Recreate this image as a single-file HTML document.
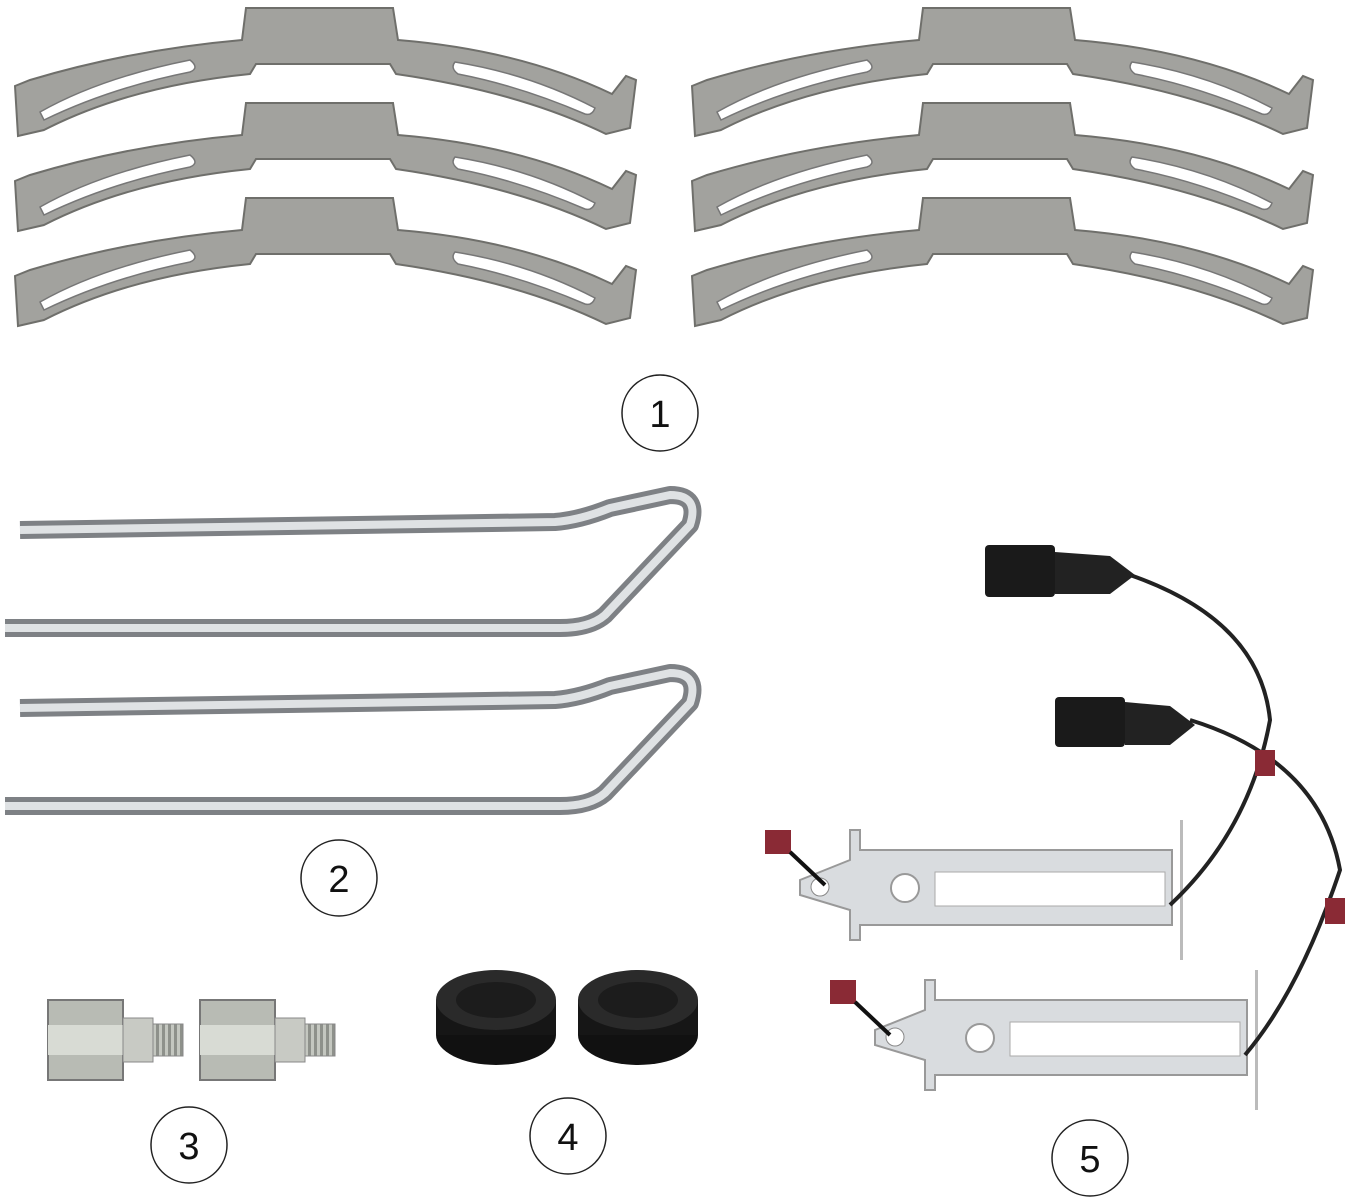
<!DOCTYPE html>
<html><head><meta charset="utf-8"><style>
html,body{margin:0;padding:0;background:#fff;}
svg{display:block}
text{font-family:"Liberation Sans",sans-serif;}
</style></head><body>
<svg width="1371" height="1201" viewBox="0 0 1371 1201" xmlns="http://www.w3.org/2000/svg">
<defs>
<g id="clip">
<path d="M15,86 L30,80 Q130,50 242,40 L246,8 L393,8 L398,40 Q520,50 612,94 L626,76 L636,80 L630,128 L606,134 Q520,92 396,74 L390,64 L256,64 L250,74 Q130,86 44,130 L18,136 Z" fill="#a2a29e" stroke="#6f6f6b" stroke-width="2"/>
<path d="M40,112 Q100,78 190,60 Q200,68 190,72 Q110,88 44,120 Z" fill="#fff" stroke="#777" stroke-width="1.5"/>
<path d="M455,62 Q530,74 595,108 Q592,116 585,114 Q520,86 458,74 Q450,68 455,62 Z" fill="#fff" stroke="#777" stroke-width="1.5"/>
</g>
<pattern id="thr" width="6" height="6" patternUnits="userSpaceOnUse">
<rect width="6" height="6" fill="#c4c7c0"/><rect width="3" height="6" fill="#8e918b"/>
</pattern>
<g id="wire">
<path d="M20,530 L555,522 Q580,520 610,508 L670,495 Q700,495 690,525 L605,615 Q590,628 560,628 L5,628" fill="none" stroke="#7e8185" stroke-width="18" stroke-linejoin="round"/>
<path d="M20,530 L555,522 Q580,520 610,508 L670,495 Q700,495 690,525 L605,615 Q590,628 560,628 L5,628" fill="none" stroke="#dfe2e4" stroke-width="8" stroke-linejoin="round"/>
</g>
<g id="bolt">
<rect x="0" y="0" width="75" height="80" fill="#b8bbb4" stroke="#777" stroke-width="2"/>
<rect x="0" y="25" width="75" height="30" fill="#d8dbd4"/>
<rect x="75" y="18" width="30" height="44" fill="#c8cac4" stroke="#888"/>
<rect x="105" y="24" width="30" height="32" fill="url(#thr)" stroke="#888"/>
</g>
<g id="cap">
<ellipse cx="0" cy="25" rx="60" ry="30" fill="#111"/>
<rect x="-60" y="-10" width="120" height="35" fill="#161616"/>
<ellipse cx="0" cy="-10" rx="60" ry="30" fill="#2a2a2a"/>
<ellipse cx="0" cy="-10" rx="40" ry="18" fill="#1c1c1c"/>
</g>
<g id="sensor">
<path d="M0,50 L50,30 L50,0 L60,0 L60,20 L372,20 L372,95 L60,95 L60,110 L50,110 L50,80 L0,65 Z" fill="#d9dcdf" stroke="#999" stroke-width="2"/>
<circle cx="105" cy="58" r="14" fill="#fff" stroke="#999" stroke-width="2"/>
<rect x="135" y="42" width="230" height="34" fill="#fff" stroke="#aaa"/>
<circle cx="20" cy="57" r="9" fill="#fff" stroke="#888"/>
<rect x="380" y="-10" width="3" height="140" fill="#bbb"/>
</g>
</defs>
<use href="#clip"/><use href="#clip" y="95"/><use href="#clip" y="190"/>
<use href="#clip" x="677"/><use href="#clip" x="677" y="95"/><use href="#clip" x="677" y="190"/>
<use href="#wire"/><use href="#wire" y="178"/>
<use href="#bolt" x="48" y="1000"/><use href="#bolt" x="200" y="1000"/>
<use href="#cap" x="496" y="1010"/><use href="#cap" x="638" y="1010"/>
<use href="#sensor" x="800" y="830"/>
<use href="#sensor" x="875" y="980"/>
<path d="M1130,575 Q1260,620 1270,720 Q1250,830 1170,905" fill="none" stroke="#222" stroke-width="4"/>
<path d="M1190,720 Q1320,760 1340,870 Q1300,990 1245,1055" fill="none" stroke="#222" stroke-width="4"/>
<rect x="985" y="545" width="70" height="52" rx="4" fill="#1a1a1a"/>
<path d="M1055,552 L1110,556 L1135,575 L1110,594 L1055,594 Z" fill="#222"/>
<rect x="1055" y="697" width="70" height="50" rx="4" fill="#1a1a1a"/>
<path d="M1125,702 L1170,706 L1195,725 L1170,745 L1125,745 Z" fill="#222"/>
<rect x="1255" y="750" width="20" height="26" fill="#8a2a35"/>
<rect x="1325" y="898" width="20" height="26" fill="#8a2a35"/>
<rect x="765" y="830" width="26" height="24" fill="#8a2a35"/>
<rect x="830" y="980" width="26" height="24" fill="#8a2a35"/>
<path d="M790,852 L825,885" stroke="#111" stroke-width="4"/>
<path d="M855,1002 L890,1035" stroke="#111" stroke-width="4"/>
<g fill="#fff" stroke="#222" stroke-width="1.5">
<circle cx="660" cy="413" r="38"/><circle cx="339" cy="878" r="38"/>
<circle cx="189" cy="1145" r="38"/><circle cx="568" cy="1136" r="38"/>
<circle cx="1090" cy="1158" r="38"/>
</g>
<g font-size="38" text-anchor="middle" fill="#111">
<text x="660" y="427">1</text><text x="339" y="892">2</text>
<text x="189" y="1159">3</text><text x="568" y="1150">4</text>
<text x="1090" y="1172">5</text>
</g>
</svg>
</body></html>
